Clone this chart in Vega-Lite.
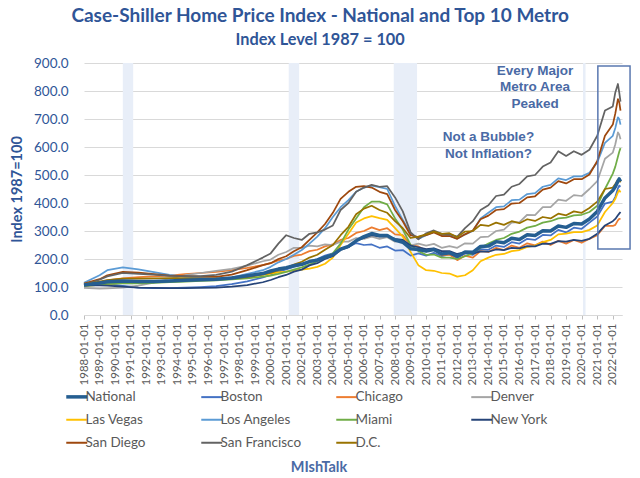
{
"$schema":"https://vega.github.io/schema/vega-lite/v6.json",
"width":538,"height":252,
"autosize":{"type":"none"},
"padding":{"left":84,"top":63,"right":18,"bottom":163},
"background":"white",
"title":{"text":"Case-Shiller Home Price Index - National and Top 10 Metro","subtitle":"Index Level 1987 = 100","frame":"bounds","anchor":"middle","font":"Lato","fontSize":19,"fontWeight":"bold","color":"#2F5597","subtitleFont":"Lato","subtitleFontSize":16.3,"subtitleFontWeight":"bold","subtitleColor":"#2F5597","subtitlePadding":6,"offset":8},
"config":{"view":{"stroke":null},"font":"Lato",
"axisX":{"title":null,"format":"%Y-%m-%d","tickCount":{"interval":"year","step":1},"labelAngle":270,"labelOverlap":false,"labelFont":"Lato","labelFontSize":11.5,"labelColor":"#595959","labelPadding":4,"tickSize":4,"tickColor":"#bfbfbf","domainColor":"#d9d9d9","grid":false,"labelBound":false,"labelFlush":false},
"axisY":{"values":[0,100,200,300,400,500,600,700,800,900],"format":".1f","domain":false,"ticks":false,"gridColor":"#d9d9d9","labelOverlap":false,"labelFont":"Lato","labelFontSize":13.5,"labelColor":"#2F5597","labelPadding":16,"titleFont":"Lato","titleFontSize":14.5,"titleFontWeight":"bold","titleColor":"#2F5597","titlePadding":9}},
"layer":[
{"data":{"values":[{"a":"1990-07-01","b":"1991-03-01"},{"a":"2001-03-01","b":"2001-11-01"},{"a":"2007-12-01","b":"2009-06-01"},{"a":"2020-02-01","b":"2020-04-01"}]},
"mark":{"type":"rect","color":"#e8eef8"},
"encoding":{"x":{"field":"a","type":"temporal","title":null,"scale":{"type":"utc","domain":[{"year":1988,"month":1,"date":1,"utc":true},{"year":2022,"month":8,"date":5,"utc":true}]}},"x2":{"field":"b"}}},
{"data":{"values":[
{"d":"1988-01","s":"B","v":109},{"d":"1989-01","s":"B","v":110},{"d":"1989-07","s":"B","v":110},{"d":"1990-07","s":"B","v":104},{"d":"1991-07","s":"B","v":98},{"d":"1992-07","s":"B","v":96},{"d":"1993-07","s":"B","v":96},{"d":"1994-07","s":"B","v":98},{"d":"1995-07","s":"B","v":100},{"d":"1996-07","s":"B","v":103},{"d":"1997-07","s":"B","v":110},{"d":"1998-07","s":"B","v":120},{"d":"1999-07","s":"B","v":134},{"d":"2000-01","s":"B","v":143},{"d":"2000-07","s":"B","v":155},{"d":"2001-01","s":"B","v":163},{"d":"2001-07","s":"B","v":173},{"d":"2002-01","s":"B","v":180},{"d":"2002-07","s":"B","v":192},{"d":"2003-01","s":"B","v":200},{"d":"2003-07","s":"B","v":212},{"d":"2004-01","s":"B","v":220},{"d":"2004-07","s":"B","v":236},{"d":"2005-01","s":"B","v":243},{"d":"2005-07","s":"B","v":257},{"d":"2006-01","s":"B","v":250},{"d":"2006-07","s":"B","v":252},{"d":"2007-01","s":"B","v":240},{"d":"2007-07","s":"B","v":245},{"d":"2008-01","s":"B","v":230},{"d":"2008-07","s":"B","v":232},{"d":"2009-01","s":"B","v":212},{"d":"2009-07","s":"B","v":220},{"d":"2010-01","s":"B","v":212},{"d":"2010-07","s":"B","v":222},{"d":"2011-01","s":"B","v":210},{"d":"2011-07","s":"B","v":216},{"d":"2012-01","s":"B","v":204},{"d":"2012-07","s":"B","v":220},{"d":"2013-01","s":"B","v":215},{"d":"2013-07","s":"B","v":235},{"d":"2014-01","s":"B","v":233},{"d":"2014-07","s":"B","v":248},{"d":"2015-01","s":"B","v":243},{"d":"2015-07","s":"B","v":260},{"d":"2016-01","s":"B","v":255},{"d":"2016-07","s":"B","v":272},{"d":"2017-01","s":"B","v":268},{"d":"2017-07","s":"B","v":286},{"d":"2018-01","s":"B","v":284},{"d":"2018-07","s":"B","v":304},{"d":"2019-01","s":"B","v":295},{"d":"2019-07","s":"B","v":312},{"d":"2020-01","s":"B","v":308},{"d":"2020-07","s":"B","v":330},{"d":"2021-01","s":"B","v":352},{"d":"2021-07","s":"B","v":398},{"d":"2022-01","s":"B","v":405},{"d":"2022-03","s":"B","v":422},{"d":"2022-05","s":"B","v":452},{"d":"2022-06","s":"B","v":462},{"d":"2022-07","s":"B","v":458},
{"d":"1988-01","s":"C","v":107},{"d":"1989-01","s":"C","v":117},{"d":"1989-07","s":"C","v":124},{"d":"1990-07","s":"C","v":131},{"d":"1991-07","s":"C","v":135},{"d":"1992-07","s":"C","v":138},{"d":"1993-07","s":"C","v":141},{"d":"1994-07","s":"C","v":146},{"d":"1995-07","s":"C","v":150},{"d":"1996-07","s":"C","v":154},{"d":"1997-07","s":"C","v":160},{"d":"1998-07","s":"C","v":168},{"d":"1999-07","s":"C","v":178},{"d":"2000-01","s":"C","v":185},{"d":"2000-07","s":"C","v":195},{"d":"2001-01","s":"C","v":200},{"d":"2001-07","s":"C","v":211},{"d":"2002-01","s":"C","v":216},{"d":"2002-07","s":"C","v":228},{"d":"2003-01","s":"C","v":233},{"d":"2003-07","s":"C","v":245},{"d":"2004-01","s":"C","v":252},{"d":"2004-07","s":"C","v":268},{"d":"2005-01","s":"C","v":275},{"d":"2005-07","s":"C","v":293},{"d":"2006-01","s":"C","v":300},{"d":"2006-07","s":"C","v":313},{"d":"2007-01","s":"C","v":303},{"d":"2007-07","s":"C","v":310},{"d":"2008-01","s":"C","v":288},{"d":"2008-07","s":"C","v":285},{"d":"2009-01","s":"C","v":250},{"d":"2009-07","s":"C","v":245},{"d":"2010-01","s":"C","v":230},{"d":"2010-07","s":"C","v":236},{"d":"2011-01","s":"C","v":213},{"d":"2011-07","s":"C","v":216},{"d":"2012-01","s":"C","v":196},{"d":"2012-07","s":"C","v":212},{"d":"2013-01","s":"C","v":205},{"d":"2013-07","s":"C","v":228},{"d":"2014-01","s":"C","v":225},{"d":"2014-07","s":"C","v":240},{"d":"2015-01","s":"C","v":232},{"d":"2015-07","s":"C","v":248},{"d":"2016-01","s":"C","v":240},{"d":"2016-07","s":"C","v":256},{"d":"2017-01","s":"C","v":249},{"d":"2017-07","s":"C","v":262},{"d":"2018-01","s":"C","v":250},{"d":"2018-07","s":"C","v":265},{"d":"2019-01","s":"C","v":255},{"d":"2019-07","s":"C","v":268},{"d":"2020-01","s":"C","v":258},{"d":"2020-07","s":"C","v":272},{"d":"2021-01","s":"C","v":285},{"d":"2021-07","s":"C","v":318},{"d":"2022-01","s":"C","v":318},{"d":"2022-03","s":"C","v":322},{"d":"2022-05","s":"C","v":338},{"d":"2022-06","s":"C","v":343},{"d":"2022-07","s":"C","v":343},
{"d":"1988-01","s":"D","v":97},{"d":"1989-01","s":"D","v":94},{"d":"1989-07","s":"D","v":95},{"d":"1990-07","s":"D","v":98},{"d":"1991-07","s":"D","v":105},{"d":"1992-07","s":"D","v":116},{"d":"1993-07","s":"D","v":129},{"d":"1994-07","s":"D","v":142},{"d":"1995-07","s":"D","v":150},{"d":"1996-07","s":"D","v":158},{"d":"1997-07","s":"D","v":165},{"d":"1998-07","s":"D","v":176},{"d":"1999-07","s":"D","v":192},{"d":"2000-01","s":"D","v":198},{"d":"2000-07","s":"D","v":215},{"d":"2001-01","s":"D","v":225},{"d":"2001-07","s":"D","v":240},{"d":"2002-01","s":"D","v":240},{"d":"2002-07","s":"D","v":248},{"d":"2003-01","s":"D","v":245},{"d":"2003-07","s":"D","v":252},{"d":"2004-01","s":"D","v":250},{"d":"2004-07","s":"D","v":262},{"d":"2005-01","s":"D","v":262},{"d":"2005-07","s":"D","v":275},{"d":"2006-01","s":"D","v":272},{"d":"2006-07","s":"D","v":280},{"d":"2007-01","s":"D","v":272},{"d":"2007-07","s":"D","v":278},{"d":"2008-01","s":"D","v":262},{"d":"2008-07","s":"D","v":266},{"d":"2009-01","s":"D","v":248},{"d":"2009-07","s":"D","v":255},{"d":"2010-01","s":"D","v":248},{"d":"2010-07","s":"D","v":254},{"d":"2011-01","s":"D","v":240},{"d":"2011-07","s":"D","v":246},{"d":"2012-01","s":"D","v":240},{"d":"2012-07","s":"D","v":256},{"d":"2013-01","s":"D","v":255},{"d":"2013-07","s":"D","v":278},{"d":"2014-01","s":"D","v":280},{"d":"2014-07","s":"D","v":300},{"d":"2015-01","s":"D","v":305},{"d":"2015-07","s":"D","v":330},{"d":"2016-01","s":"D","v":332},{"d":"2016-07","s":"D","v":358},{"d":"2017-01","s":"D","v":357},{"d":"2017-07","s":"D","v":385},{"d":"2018-01","s":"D","v":385},{"d":"2018-07","s":"D","v":412},{"d":"2019-01","s":"D","v":408},{"d":"2019-07","s":"D","v":428},{"d":"2020-01","s":"D","v":425},{"d":"2020-07","s":"D","v":450},{"d":"2021-01","s":"D","v":478},{"d":"2021-07","s":"D","v":558},{"d":"2022-01","s":"D","v":580},{"d":"2022-03","s":"D","v":610},{"d":"2022-05","s":"D","v":652},{"d":"2022-06","s":"D","v":645},{"d":"2022-07","s":"D","v":628},
{"d":"1988-01","s":"LV","v":104},{"d":"1989-01","s":"LV","v":108},{"d":"1989-07","s":"LV","v":111},{"d":"1990-07","s":"LV","v":115},{"d":"1991-07","s":"LV","v":118},{"d":"1992-07","s":"LV","v":119},{"d":"1993-07","s":"LV","v":121},{"d":"1994-07","s":"LV","v":124},{"d":"1995-07","s":"LV","v":127},{"d":"1996-07","s":"LV","v":130},{"d":"1997-07","s":"LV","v":133},{"d":"1998-07","s":"LV","v":137},{"d":"1999-07","s":"LV","v":143},{"d":"2000-01","s":"LV","v":148},{"d":"2000-07","s":"LV","v":152},{"d":"2001-01","s":"LV","v":155},{"d":"2001-07","s":"LV","v":159},{"d":"2002-01","s":"LV","v":162},{"d":"2002-07","s":"LV","v":166},{"d":"2003-01","s":"LV","v":172},{"d":"2003-07","s":"LV","v":183},{"d":"2004-01","s":"LV","v":205},{"d":"2004-07","s":"LV","v":250},{"d":"2005-01","s":"LV","v":290},{"d":"2005-07","s":"LV","v":330},{"d":"2006-01","s":"LV","v":345},{"d":"2006-07","s":"LV","v":353},{"d":"2007-01","s":"LV","v":346},{"d":"2007-07","s":"LV","v":340},{"d":"2008-01","s":"LV","v":310},{"d":"2008-07","s":"LV","v":280},{"d":"2009-01","s":"LV","v":225},{"d":"2009-07","s":"LV","v":178},{"d":"2010-01","s":"LV","v":160},{"d":"2010-07","s":"LV","v":158},{"d":"2011-01","s":"LV","v":150},{"d":"2011-07","s":"LV","v":148},{"d":"2012-01","s":"LV","v":137},{"d":"2012-07","s":"LV","v":142},{"d":"2013-01","s":"LV","v":160},{"d":"2013-07","s":"LV","v":192},{"d":"2014-01","s":"LV","v":205},{"d":"2014-07","s":"LV","v":215},{"d":"2015-01","s":"LV","v":218},{"d":"2015-07","s":"LV","v":228},{"d":"2016-01","s":"LV","v":232},{"d":"2016-07","s":"LV","v":243},{"d":"2017-01","s":"LV","v":248},{"d":"2017-07","s":"LV","v":260},{"d":"2018-01","s":"LV","v":268},{"d":"2018-07","s":"LV","v":288},{"d":"2019-01","s":"LV","v":291},{"d":"2019-07","s":"LV","v":296},{"d":"2020-01","s":"LV","v":296},{"d":"2020-07","s":"LV","v":304},{"d":"2021-01","s":"LV","v":320},{"d":"2021-07","s":"LV","v":368},{"d":"2022-01","s":"LV","v":400},{"d":"2022-03","s":"LV","v":415},{"d":"2022-05","s":"LV","v":438},{"d":"2022-06","s":"LV","v":446},{"d":"2022-07","s":"LV","v":438},
{"d":"1988-01","s":"LA","v":115},{"d":"1989-01","s":"LA","v":142},{"d":"1989-07","s":"LA","v":160},{"d":"1990-07","s":"LA","v":170},{"d":"1991-07","s":"LA","v":163},{"d":"1992-07","s":"LA","v":153},{"d":"1993-07","s":"LA","v":143},{"d":"1994-07","s":"LA","v":137},{"d":"1995-07","s":"LA","v":133},{"d":"1996-07","s":"LA","v":128},{"d":"1997-07","s":"LA","v":134},{"d":"1998-07","s":"LA","v":147},{"d":"1999-07","s":"LA","v":160},{"d":"2000-01","s":"LA","v":172},{"d":"2000-07","s":"LA","v":188},{"d":"2001-01","s":"LA","v":200},{"d":"2001-07","s":"LA","v":215},{"d":"2002-01","s":"LA","v":232},{"d":"2002-07","s":"LA","v":255},{"d":"2003-01","s":"LA","v":280},{"d":"2003-07","s":"LA","v":310},{"d":"2004-01","s":"LA","v":350},{"d":"2004-07","s":"LA","v":385},{"d":"2005-01","s":"LA","v":410},{"d":"2005-07","s":"LA","v":440},{"d":"2006-01","s":"LA","v":455},{"d":"2006-07","s":"LA","v":462},{"d":"2007-01","s":"LA","v":457},{"d":"2007-07","s":"LA","v":450},{"d":"2008-01","s":"LA","v":390},{"d":"2008-07","s":"LA","v":340},{"d":"2009-01","s":"LA","v":290},{"d":"2009-07","s":"LA","v":272},{"d":"2010-01","s":"LA","v":285},{"d":"2010-07","s":"LA","v":297},{"d":"2011-01","s":"LA","v":285},{"d":"2011-07","s":"LA","v":283},{"d":"2012-01","s":"LA","v":273},{"d":"2012-07","s":"LA","v":288},{"d":"2013-01","s":"LA","v":300},{"d":"2013-07","s":"LA","v":345},{"d":"2014-01","s":"LA","v":365},{"d":"2014-07","s":"LA","v":385},{"d":"2015-01","s":"LA","v":388},{"d":"2015-07","s":"LA","v":410},{"d":"2016-01","s":"LA","v":412},{"d":"2016-07","s":"LA","v":432},{"d":"2017-01","s":"LA","v":435},{"d":"2017-07","s":"LA","v":458},{"d":"2018-01","s":"LA","v":465},{"d":"2018-07","s":"LA","v":488},{"d":"2019-01","s":"LA","v":482},{"d":"2019-07","s":"LA","v":495},{"d":"2020-01","s":"LA","v":495},{"d":"2020-07","s":"LA","v":508},{"d":"2021-01","s":"LA","v":545},{"d":"2021-07","s":"LA","v":615},{"d":"2022-01","s":"LA","v":640},{"d":"2022-03","s":"LA","v":668},{"d":"2022-05","s":"LA","v":706},{"d":"2022-06","s":"LA","v":700},{"d":"2022-07","s":"LA","v":680},
{"d":"1988-01","s":"M","v":104},{"d":"1989-01","s":"M","v":108},{"d":"1989-07","s":"M","v":111},{"d":"1990-07","s":"M","v":113},{"d":"1991-07","s":"M","v":113},{"d":"1992-07","s":"M","v":115},{"d":"1993-07","s":"M","v":117},{"d":"1994-07","s":"M","v":119},{"d":"1995-07","s":"M","v":122},{"d":"1996-07","s":"M","v":124},{"d":"1997-07","s":"M","v":127},{"d":"1998-07","s":"M","v":131},{"d":"1999-07","s":"M","v":137},{"d":"2000-01","s":"M","v":141},{"d":"2000-07","s":"M","v":147},{"d":"2001-01","s":"M","v":154},{"d":"2001-07","s":"M","v":162},{"d":"2002-01","s":"M","v":170},{"d":"2002-07","s":"M","v":180},{"d":"2003-01","s":"M","v":192},{"d":"2003-07","s":"M","v":205},{"d":"2004-01","s":"M","v":220},{"d":"2004-07","s":"M","v":255},{"d":"2005-01","s":"M","v":305},{"d":"2005-07","s":"M","v":345},{"d":"2006-01","s":"M","v":385},{"d":"2006-07","s":"M","v":405},{"d":"2007-01","s":"M","v":405},{"d":"2007-07","s":"M","v":395},{"d":"2008-01","s":"M","v":345},{"d":"2008-07","s":"M","v":305},{"d":"2009-01","s":"M","v":250},{"d":"2009-07","s":"M","v":228},{"d":"2010-01","s":"M","v":215},{"d":"2010-07","s":"M","v":216},{"d":"2011-01","s":"M","v":205},{"d":"2011-07","s":"M","v":205},{"d":"2012-01","s":"M","v":200},{"d":"2012-07","s":"M","v":210},{"d":"2013-01","s":"M","v":220},{"d":"2013-07","s":"M","v":240},{"d":"2014-01","s":"M","v":255},{"d":"2014-07","s":"M","v":268},{"d":"2015-01","s":"M","v":275},{"d":"2015-07","s":"M","v":290},{"d":"2016-01","s":"M","v":298},{"d":"2016-07","s":"M","v":312},{"d":"2017-01","s":"M","v":318},{"d":"2017-07","s":"M","v":330},{"d":"2018-01","s":"M","v":335},{"d":"2018-07","s":"M","v":345},{"d":"2019-01","s":"M","v":348},{"d":"2019-07","s":"M","v":356},{"d":"2020-01","s":"M","v":358},{"d":"2020-07","s":"M","v":368},{"d":"2021-01","s":"M","v":390},{"d":"2021-07","s":"M","v":450},{"d":"2022-01","s":"M","v":505},{"d":"2022-03","s":"M","v":530},{"d":"2022-05","s":"M","v":565},{"d":"2022-06","s":"M","v":583},{"d":"2022-07","s":"M","v":596},
{"d":"1988-01","s":"NY","v":106},{"d":"1989-01","s":"NY","v":106},{"d":"1989-07","s":"NY","v":105},{"d":"1990-07","s":"NY","v":101},{"d":"1991-07","s":"NY","v":98},{"d":"1992-07","s":"NY","v":97},{"d":"1993-07","s":"NY","v":96},{"d":"1994-07","s":"NY","v":96},{"d":"1995-07","s":"NY","v":97},{"d":"1996-07","s":"NY","v":98},{"d":"1997-07","s":"NY","v":101},{"d":"1998-07","s":"NY","v":107},{"d":"1999-07","s":"NY","v":117},{"d":"2000-01","s":"NY","v":125},{"d":"2000-07","s":"NY","v":135},{"d":"2001-01","s":"NY","v":143},{"d":"2001-07","s":"NY","v":155},{"d":"2002-01","s":"NY","v":162},{"d":"2002-07","s":"NY","v":177},{"d":"2003-01","s":"NY","v":185},{"d":"2003-07","s":"NY","v":200},{"d":"2004-01","s":"NY","v":210},{"d":"2004-07","s":"NY","v":232},{"d":"2005-01","s":"NY","v":242},{"d":"2005-07","s":"NY","v":265},{"d":"2006-01","s":"NY","v":275},{"d":"2006-07","s":"NY","v":285},{"d":"2007-01","s":"NY","v":280},{"d":"2007-07","s":"NY","v":282},{"d":"2008-01","s":"NY","v":272},{"d":"2008-07","s":"NY","v":268},{"d":"2009-01","s":"NY","v":248},{"d":"2009-07","s":"NY","v":242},{"d":"2010-01","s":"NY","v":235},{"d":"2010-07","s":"NY","v":238},{"d":"2011-01","s":"NY","v":228},{"d":"2011-07","s":"NY","v":228},{"d":"2012-01","s":"NY","v":218},{"d":"2012-07","s":"NY","v":224},{"d":"2013-01","s":"NY","v":219},{"d":"2013-07","s":"NY","v":227},{"d":"2014-01","s":"NY","v":226},{"d":"2014-07","s":"NY","v":234},{"d":"2015-01","s":"NY","v":232},{"d":"2015-07","s":"NY","v":240},{"d":"2016-01","s":"NY","v":238},{"d":"2016-07","s":"NY","v":246},{"d":"2017-01","s":"NY","v":245},{"d":"2017-07","s":"NY","v":255},{"d":"2018-01","s":"NY","v":254},{"d":"2018-07","s":"NY","v":264},{"d":"2019-01","s":"NY","v":262},{"d":"2019-07","s":"NY","v":268},{"d":"2020-01","s":"NY","v":265},{"d":"2020-07","s":"NY","v":272},{"d":"2021-01","s":"NY","v":290},{"d":"2021-07","s":"NY","v":320},{"d":"2022-01","s":"NY","v":335},{"d":"2022-03","s":"NY","v":343},{"d":"2022-05","s":"NY","v":356},{"d":"2022-06","s":"NY","v":362},{"d":"2022-07","s":"NY","v":368},
{"d":"1988-01","s":"SD","v":112},{"d":"1989-01","s":"SD","v":128},{"d":"1989-07","s":"SD","v":142},{"d":"1990-07","s":"SD","v":154},{"d":"1991-07","s":"SD","v":151},{"d":"1992-07","s":"SD","v":146},{"d":"1993-07","s":"SD","v":141},{"d":"1994-07","s":"SD","v":139},{"d":"1995-07","s":"SD","v":137},{"d":"1996-07","s":"SD","v":136},{"d":"1997-07","s":"SD","v":144},{"d":"1998-07","s":"SD","v":160},{"d":"1999-07","s":"SD","v":178},{"d":"2000-01","s":"SD","v":185},{"d":"2000-07","s":"SD","v":200},{"d":"2001-01","s":"SD","v":210},{"d":"2001-07","s":"SD","v":228},{"d":"2002-01","s":"SD","v":242},{"d":"2002-07","s":"SD","v":268},{"d":"2003-01","s":"SD","v":295},{"d":"2003-07","s":"SD","v":325},{"d":"2004-01","s":"SD","v":365},{"d":"2004-07","s":"SD","v":415},{"d":"2005-01","s":"SD","v":440},{"d":"2005-07","s":"SD","v":458},{"d":"2006-01","s":"SD","v":460},{"d":"2006-07","s":"SD","v":455},{"d":"2007-01","s":"SD","v":440},{"d":"2007-07","s":"SD","v":432},{"d":"2008-01","s":"SD","v":375},{"d":"2008-07","s":"SD","v":335},{"d":"2009-01","s":"SD","v":285},{"d":"2009-07","s":"SD","v":278},{"d":"2010-01","s":"SD","v":285},{"d":"2010-07","s":"SD","v":295},{"d":"2011-01","s":"SD","v":282},{"d":"2011-07","s":"SD","v":282},{"d":"2012-01","s":"SD","v":272},{"d":"2012-07","s":"SD","v":288},{"d":"2013-01","s":"SD","v":302},{"d":"2013-07","s":"SD","v":342},{"d":"2014-01","s":"SD","v":355},{"d":"2014-07","s":"SD","v":375},{"d":"2015-01","s":"SD","v":378},{"d":"2015-07","s":"SD","v":398},{"d":"2016-01","s":"SD","v":400},{"d":"2016-07","s":"SD","v":420},{"d":"2017-01","s":"SD","v":424},{"d":"2017-07","s":"SD","v":448},{"d":"2018-01","s":"SD","v":455},{"d":"2018-07","s":"SD","v":478},{"d":"2019-01","s":"SD","v":470},{"d":"2019-07","s":"SD","v":485},{"d":"2020-01","s":"SD","v":485},{"d":"2020-07","s":"SD","v":502},{"d":"2021-01","s":"SD","v":550},{"d":"2021-07","s":"SD","v":640},{"d":"2022-01","s":"SD","v":680},{"d":"2022-03","s":"SD","v":720},{"d":"2022-05","s":"SD","v":771},{"d":"2022-06","s":"SD","v":760},{"d":"2022-07","s":"SD","v":730},
{"d":"1988-01","s":"SF","v":108},{"d":"1989-01","s":"SF","v":126},{"d":"1989-07","s":"SF","v":138},{"d":"1990-07","s":"SF","v":150},{"d":"1991-07","s":"SF","v":147},{"d":"1992-07","s":"SF","v":144},{"d":"1993-07","s":"SF","v":140},{"d":"1994-07","s":"SF","v":139},{"d":"1995-07","s":"SF","v":139},{"d":"1996-07","s":"SF","v":143},{"d":"1997-07","s":"SF","v":155},{"d":"1998-07","s":"SF","v":178},{"d":"1999-07","s":"SF","v":205},{"d":"2000-01","s":"SF","v":220},{"d":"2000-07","s":"SF","v":255},{"d":"2001-01","s":"SF","v":285},{"d":"2001-07","s":"SF","v":275},{"d":"2002-01","s":"SF","v":268},{"d":"2002-07","s":"SF","v":290},{"d":"2003-01","s":"SF","v":295},{"d":"2003-07","s":"SF","v":305},{"d":"2004-01","s":"SF","v":320},{"d":"2004-07","s":"SF","v":375},{"d":"2005-01","s":"SF","v":400},{"d":"2005-07","s":"SF","v":440},{"d":"2006-01","s":"SF","v":455},{"d":"2006-07","s":"SF","v":465},{"d":"2007-01","s":"SF","v":458},{"d":"2007-07","s":"SF","v":460},{"d":"2008-01","s":"SF","v":420},{"d":"2008-07","s":"SF","v":370},{"d":"2009-01","s":"SF","v":295},{"d":"2009-07","s":"SF","v":270},{"d":"2010-01","s":"SF","v":292},{"d":"2010-07","s":"SF","v":302},{"d":"2011-01","s":"SF","v":290},{"d":"2011-07","s":"SF","v":288},{"d":"2012-01","s":"SF","v":280},{"d":"2012-07","s":"SF","v":310},{"d":"2013-01","s":"SF","v":335},{"d":"2013-07","s":"SF","v":375},{"d":"2014-01","s":"SF","v":392},{"d":"2014-07","s":"SF","v":425},{"d":"2015-01","s":"SF","v":430},{"d":"2015-07","s":"SF","v":458},{"d":"2016-01","s":"SF","v":468},{"d":"2016-07","s":"SF","v":495},{"d":"2017-01","s":"SF","v":500},{"d":"2017-07","s":"SF","v":530},{"d":"2018-01","s":"SF","v":545},{"d":"2018-07","s":"SF","v":585},{"d":"2019-01","s":"SF","v":568},{"d":"2019-07","s":"SF","v":585},{"d":"2020-01","s":"SF","v":572},{"d":"2020-07","s":"SF","v":590},{"d":"2021-01","s":"SF","v":640},{"d":"2021-07","s":"SF","v":730},{"d":"2022-01","s":"SF","v":745},{"d":"2022-03","s":"SF","v":795},{"d":"2022-05","s":"SF","v":825},{"d":"2022-06","s":"SF","v":795},{"d":"2022-07","s":"SF","v":762},
{"d":"1988-01","s":"DC","v":110},{"d":"1989-01","s":"DC","v":119},{"d":"1989-07","s":"DC","v":125},{"d":"1990-07","s":"DC","v":130},{"d":"1991-07","s":"DC","v":130},{"d":"1992-07","s":"DC","v":131},{"d":"1993-07","s":"DC","v":132},{"d":"1994-07","s":"DC","v":132},{"d":"1995-07","s":"DC","v":130},{"d":"1996-07","s":"DC","v":130},{"d":"1997-07","s":"DC","v":131},{"d":"1998-07","s":"DC","v":135},{"d":"1999-07","s":"DC","v":145},{"d":"2000-01","s":"DC","v":150},{"d":"2000-07","s":"DC","v":160},{"d":"2001-01","s":"DC","v":168},{"d":"2001-07","s":"DC","v":180},{"d":"2002-01","s":"DC","v":190},{"d":"2002-07","s":"DC","v":205},{"d":"2003-01","s":"DC","v":215},{"d":"2003-07","s":"DC","v":233},{"d":"2004-01","s":"DC","v":250},{"d":"2004-07","s":"DC","v":285},{"d":"2005-01","s":"DC","v":315},{"d":"2005-07","s":"DC","v":360},{"d":"2006-01","s":"DC","v":380},{"d":"2006-07","s":"DC","v":390},{"d":"2007-01","s":"DC","v":375},{"d":"2007-07","s":"DC","v":365},{"d":"2008-01","s":"DC","v":335},{"d":"2008-07","s":"DC","v":310},{"d":"2009-01","s":"DC","v":275},{"d":"2009-07","s":"DC","v":280},{"d":"2010-01","s":"DC","v":288},{"d":"2010-07","s":"DC","v":298},{"d":"2011-01","s":"DC","v":290},{"d":"2011-07","s":"DC","v":292},{"d":"2012-01","s":"DC","v":278},{"d":"2012-07","s":"DC","v":298},{"d":"2013-01","s":"DC","v":300},{"d":"2013-07","s":"DC","v":322},{"d":"2014-01","s":"DC","v":318},{"d":"2014-07","s":"DC","v":330},{"d":"2015-01","s":"DC","v":322},{"d":"2015-07","s":"DC","v":335},{"d":"2016-01","s":"DC","v":328},{"d":"2016-07","s":"DC","v":342},{"d":"2017-01","s":"DC","v":336},{"d":"2017-07","s":"DC","v":350},{"d":"2018-01","s":"DC","v":345},{"d":"2018-07","s":"DC","v":362},{"d":"2019-01","s":"DC","v":356},{"d":"2019-07","s":"DC","v":370},{"d":"2020-01","s":"DC","v":365},{"d":"2020-07","s":"DC","v":382},{"d":"2021-01","s":"DC","v":405},{"d":"2021-07","s":"DC","v":450},{"d":"2022-01","s":"DC","v":455},{"d":"2022-03","s":"DC","v":468},{"d":"2022-05","s":"DC","v":483},{"d":"2022-06","s":"DC","v":484},{"d":"2022-07","s":"DC","v":474},
{"d":"1988-01","s":"N","v":107},{"d":"1989-01","s":"N","v":114},{"d":"1989-07","s":"N","v":119},{"d":"1990-07","s":"N","v":121},{"d":"1991-07","s":"N","v":120},{"d":"1992-07","s":"N","v":120},{"d":"1993-07","s":"N","v":121},{"d":"1994-07","s":"N","v":124},{"d":"1995-07","s":"N","v":126},{"d":"1996-07","s":"N","v":128},{"d":"1997-07","s":"N","v":132},{"d":"1998-07","s":"N","v":140},{"d":"1999-07","s":"N","v":148},{"d":"2000-01","s":"N","v":157},{"d":"2000-07","s":"N","v":164},{"d":"2001-01","s":"N","v":169},{"d":"2001-07","s":"N","v":176},{"d":"2002-01","s":"N","v":181},{"d":"2002-07","s":"N","v":191},{"d":"2003-01","s":"N","v":196},{"d":"2003-07","s":"N","v":206},{"d":"2004-01","s":"N","v":215},{"d":"2004-07","s":"N","v":235},{"d":"2005-01","s":"N","v":245},{"d":"2005-07","s":"N","v":265},{"d":"2006-01","s":"N","v":280},{"d":"2006-07","s":"N","v":291},{"d":"2007-01","s":"N","v":284},{"d":"2007-07","s":"N","v":284},{"d":"2008-01","s":"N","v":268},{"d":"2008-07","s":"N","v":260},{"d":"2009-01","s":"N","v":237},{"d":"2009-07","s":"N","v":234},{"d":"2010-01","s":"N","v":228},{"d":"2010-07","s":"N","v":234},{"d":"2011-01","s":"N","v":218},{"d":"2011-07","s":"N","v":222},{"d":"2012-01","s":"N","v":210},{"d":"2012-07","s":"N","v":225},{"d":"2013-01","s":"N","v":224},{"d":"2013-07","s":"N","v":245},{"d":"2014-01","s":"N","v":246},{"d":"2014-07","s":"N","v":262},{"d":"2015-01","s":"N","v":258},{"d":"2015-07","s":"N","v":274},{"d":"2016-01","s":"N","v":270},{"d":"2016-07","s":"N","v":287},{"d":"2017-01","s":"N","v":284},{"d":"2017-07","s":"N","v":301},{"d":"2018-01","s":"N","v":300},{"d":"2018-07","s":"N","v":318},{"d":"2019-01","s":"N","v":313},{"d":"2019-07","s":"N","v":327},{"d":"2020-01","s":"N","v":325},{"d":"2020-07","s":"N","v":343},{"d":"2021-01","s":"N","v":370},{"d":"2021-07","s":"N","v":418},{"d":"2022-01","s":"N","v":445},{"d":"2022-03","s":"N","v":458},{"d":"2022-05","s":"N","v":478},{"d":"2022-06","s":"N","v":486},{"d":"2022-07","s":"N","v":477}
]},
"mark":{"type":"line","strokeJoin":"round"},
"encoding":{
"x":{"field":"d","type":"temporal","title":null,"scale":{"type":"utc","domain":[{"year":1988,"month":1,"date":1,"utc":true},{"year":2022,"month":8,"date":5,"utc":true}]}},
"y":{"field":"v","type":"quantitative","title":"Index 1987=100","scale":{"domain":[0,900],"nice":false}},
"color":{"field":"s","type":"nominal","scale":{"domain":["N","B","C","D","LV","LA","M","NY","SD","SF","DC"],"range":["#255E91","#4472C4","#ED7D31","#A5A5A5","#FFC000","#5B9BD5","#70AD47","#264478","#9E480E","#636363","#997300"]},
"legend":{"orient":"none","direction":"horizontal","legendX":-14,"legendY":327,"columns":4,"gridAlign":"all","columnPadding":30,"rowPadding":8,"symbolType":"stroke","symbolSize":440,"symbolStrokeWidth":2,"labelFont":"Lato","labelFontSize":13.5,"labelColor":"#595959","labelOffset":2,"symbolLimit":0,
"labelExpr":"datum.label=='N'?'National':datum.label=='B'?'Boston':datum.label=='C'?'Chicago':datum.label=='D'?'Denver':datum.label=='LV'?'Las Vegas':datum.label=='LA'?'Los Angeles':datum.label=='M'?'Miami':datum.label=='NY'?'New York':datum.label=='SD'?'San Diego':datum.label=='SF'?'San Francisco':'D.C.'",
"title":"MIshTalk","titleOrient":"bottom","titleAnchor":"middle","titleFont":"Lato","titleFontSize":14.5,"titleFontWeight":"bold","titleColor":"#4a6aa5","titlePadding":12,
"encode":{"symbols":{"update":{"strokeWidth":{"signal":"datum.value==='N'?3.5:2"}}},"title":{"update":{"dx":{"value":10}}}}}},
"strokeWidth":{"condition":{"test":"datum.s==='N'","value":3.5},"value":1.75}
}},
{"data":{"values":[{"a":"2021-01-15","b":"2023-02-10","lo":236,"hi":889}]},
"mark":{"type":"rect","filled":false,"stroke":"#5a78b0","strokeWidth":1.5},
"encoding":{"x":{"field":"a","type":"temporal","title":null,"scale":{"type":"utc","domain":[{"year":1988,"month":1,"date":1,"utc":true},{"year":2022,"month":8,"date":5,"utc":true}]}},"x2":{"field":"b"},"y":{"field":"lo","type":"quantitative","title":"Index 1987=100","scale":{"domain":[0,900],"nice":false}},"y2":{"field":"hi"}}},
{"data":{"values":[{"d":"2017-01-01","v":873,"t":"Every Major"},{"d":"2017-01-01","v":813,"t":"Metro Area"},{"d":"2017-01-01","v":754,"t":"Peaked"},{"d":"2014-01-01","v":637,"t":"Not a Bubble?"},{"d":"2014-01-01","v":575,"t":"Not Inflation?"}]},
"mark":{"type":"text","font":"Liberation Sans","fontWeight":"bold","fontSize":13.5,"color":"#4a6aa5","align":"center","baseline":"middle"},
"encoding":{"x":{"field":"d","type":"temporal","title":null,"scale":{"type":"utc","domain":[{"year":1988,"month":1,"date":1,"utc":true},{"year":2022,"month":8,"date":5,"utc":true}]}},"y":{"field":"v","type":"quantitative","title":"Index 1987=100","scale":{"domain":[0,900],"nice":false}},"text":{"field":"t"}}}
]
}
